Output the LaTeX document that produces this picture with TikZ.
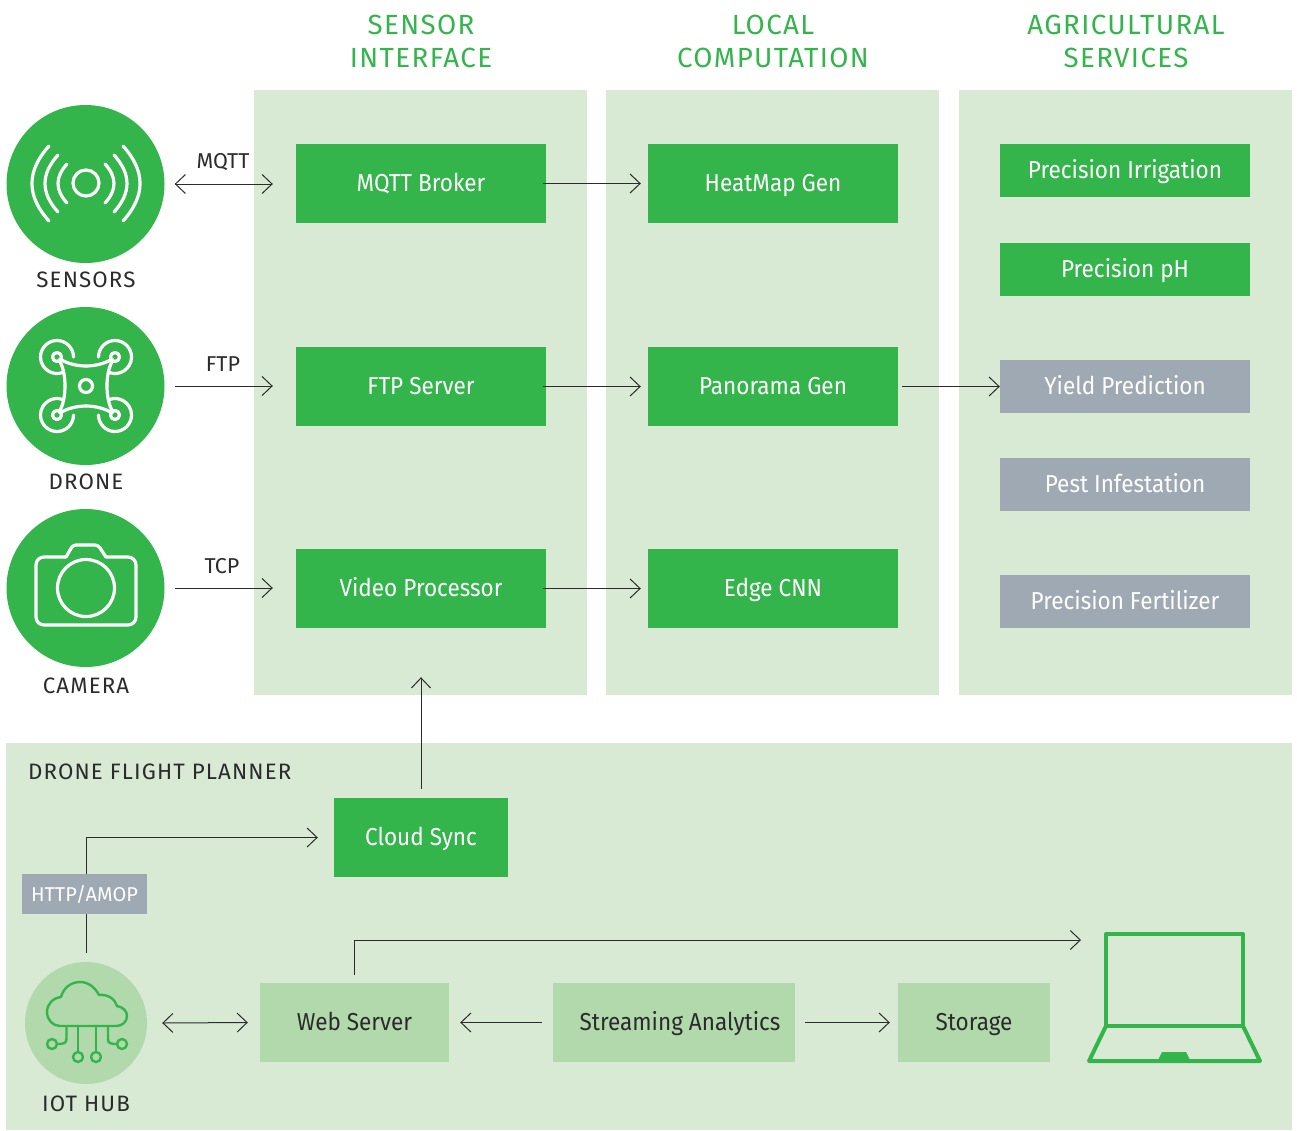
\documentclass[tikz,border=0pt]{standalone}
\usepackage{fontspec}
\setmainfont{Fira Sans}
\newfontfamily\boxfontfam{Fira Sans}[FakeStretch=0.92]
\newfontfamily\spacedfont{Fira Sans}[LetterSpace=5]
\usetikzlibrary{arrows.meta}
\definecolor{brand}{HTML}{33B54C}
\definecolor{panelbg}{HTML}{D8EAD4}
\definecolor{softgreen}{HTML}{B1D9AC}
\definecolor{slate}{HTML}{9FA9B4}
\definecolor{ink}{HTML}{2B2B2B}
\tikzset{
  panel/.style={fill=panelbg,draw=none,inner sep=0pt,minimum width=333pt,minimum height=605pt},
  boxfont/.style={font=\boxfontfam\fontsize{24.5}{28}\selectfont,text height=17pt,text depth=1.5pt},
  mainbox/.style={fill=brand,text=white,inner sep=0pt,minimum width=250pt,minimum height=79pt,boxfont},
  svcbox/.style={fill=brand,text=white,inner sep=0pt,minimum width=250pt,minimum height=53pt,boxfont},
  greybox/.style={svcbox,fill=slate},
  softbox/.style={fill=softgreen,text=ink,inner sep=0pt,minimum height=79pt,boxfont},
  header/.style={text=brand,align=center,font=\spacedfont\fontsize{27.7}{33}\selectfont},
  caption/.style={text=ink,inner sep=0pt,font=\spacedfont\fontsize{22.3}{24}\selectfont},
  proto/.style={text=ink,inner sep=0pt,font=\fontsize{21.5}{24}\selectfont},
  disc/.style={circle,fill=brand,inner sep=0pt,minimum size=158pt},
  link/.style={draw=ink,line width=1pt,>={Straight Barb[length=10pt,width=19pt,line width=1pt]}},
  iconw/.style={draw=white,line width=3.2pt,line cap=round,line join=round},
  icong/.style={draw=brand,line width=2.4pt,line cap=round,line join=round}
}
\begin{document}
\begin{tikzpicture}[x=1pt,y=-1pt]
\useasboundingbox (0,0) rectangle (1297,1130);
% panels
\node[panel] (pSensor) at (420.5,392.5) {};
\node[panel] (pLocal) at (772.5,392.5) {};
\node[panel] (pAgri) at (1125.5,392.5) {};
\node[panel,minimum width=1286pt,minimum height=387pt] (pPlan) at (649,936.5) {};
% headers
\node[header] (h1) at (421,41.5) {SENSOR\\INTERFACE};
\node[header] (h2) at (773,41.5) {LOCAL\\COMPUTATION};
\node[header] (h3) at (1126,41.5) {AGRICULTURAL\\SERVICES};
% discs
\node[disc] (sens) at (85.5,184) {};
\node[disc] (drone) at (85.5,386) {};
\node[disc] (cam) at (85.5,588) {};
\node[caption] (lSens) at (86,280) {SENSORS};
\node[caption] (lDrone) at (86,482) {DRONE};
\node[caption] (lCam) at (86,686) {CAMERA};
% main boxes
\node[mainbox] (mqtt) at (421,183.5) {MQTT Broker};
\node[mainbox] (ftp) at (421,386.5) {FTP Server};
\node[mainbox] (video) at (421,588.5) {Video Processor};
\node[mainbox] (heat) at (773,183.5) {HeatMap Gen};
\node[mainbox] (pano) at (773,386.5) {Panorama Gen};
\node[mainbox] (cnn) at (773,588.5) {Edge CNN};
\node[svcbox] (irr) at (1125,170.5) {Precision Irrigation};
\node[svcbox] (ph) at (1125,269.5) {Precision pH};
\node[greybox] (yield) at (1125,386.5) {Yield Prediction};
\node[greybox] (pest) at (1125,484.5) {Pest Infestation};
\node[greybox] (fert) at (1125,601.5) {Precision Fertilizer};
% protocol labels
\node[proto] (lMqtt) at (223,162) {MQTT};
\node[proto] (lFtp) at (223,364) {FTP};
\node[proto] (lTcp) at (222,566) {TCP};
% planner
\node[caption,anchor=west] (lPlan) at (28,772) {DRONE FLIGHT PLANNER};
\node[circle,fill=softgreen,inner sep=0pt,minimum size=122pt] (hub) at (86,1023) {};
\node[caption] (lHub) at (86,1104) {IOT HUB};
\node[mainbox,minimum width=174pt] (cloud) at (421,837.5) {Cloud Sync};
\node[softbox,minimum width=189pt] (web) at (354.5,1022.5) {Web Server};
\node[softbox,minimum width=242pt] (stream) at (674,1022.5) {\hspace*{12pt}Streaming Analytics};
\node[softbox,minimum width=152pt] (store) at (974,1022.5) {Storage};
\node[draw=brand,line width=4pt,line join=round,inner sep=0pt,outer sep=0pt,minimum width=137pt,minimum height=92pt] (laptop) at (1174.5,980) {};
% connectors
\draw[link,<->] ([xshift=10pt]sens.east) -- ([xshift=-23pt]mqtt.west|-sens.east);
\draw[link,->] ([xshift=10pt]drone.east) -- ([xshift=-23pt]ftp.west|-drone.east);
\draw[link,->] ([xshift=10pt]cam.east) -- ([xshift=-23pt]video.west|-cam.east);
\draw[link,->] ([xshift=-3pt]mqtt.east) -- ([xshift=-7pt]heat.west);
\draw[link,->] ([xshift=-3pt]ftp.east) -- ([xshift=-7pt]pano.west);
\draw[link,->] ([xshift=-3pt]video.east) -- ([xshift=-7pt]cnn.west);
\draw[link,->] ([xshift=4pt]pano.east) -- (yield.west);
\draw[link,->] ([yshift=9pt]cloud.north) -- ([yshift=18pt]pSensor.south-|cloud.north);
\coordinate (hubTop) at ([yshift=9pt]hub.north);
\draw[link,->] (hubTop) -- (hubTop|-cloud.west) -- ([xshift=-16pt]cloud.west);
\node[fill=slate,text=white,inner sep=0pt,minimum width=125pt,minimum height=40pt,font=\fontsize{20}{22}\selectfont] (http) at (84.5,894) {HTTP/AMOP};
\draw[link,<->] ([xshift=15pt]hub.east) -- ([xshift=-12pt]web.west);
\draw[link,->] ([xshift=-11pt]stream.west) -- ([xshift=11pt]web.east);
\draw[link,->] ([xshift=10pt]stream.east) -- ([xshift=-8pt]store.west);
\coordinate (lapIn) at ([xshift=-25pt,yshift=-6pt]laptop.north west);
\coordinate (webTop) at ([yshift=8pt]web.north);
\draw[link,->] (webTop) -- (webTop|-lapIn) -- (lapIn);
% sensors icon
\draw[iconw] (86,183) circle (13);
\foreach \s in {1,-1}{
\begin{scope}[shift={(86,183.5)},xscale=\s]
\draw[iconw] (-19,-19.5) .. controls (-31,-6.5) and (-31,6.5) .. (-19,19.5);
\draw[iconw] (-28,-28.5) .. controls (-45.3,-9.5) and (-45.3,9.5) .. (-28,28.5);
\draw[iconw] (-37,-37.5) .. controls (-59.7,-12.5) and (-59.7,12.5) .. (-37,37.5);
\end{scope}}
% drone icon
\draw[iconw] (86,386) circle (6.5);
\foreach \sx in {1,-1}{\foreach \sy in {1,-1}{
\begin{scope}[shift={(86,386)},xscale=\sx,yscale=\sy]
\draw[iconw] (-29,-29) circle (4.5);
\draw[iconw] (-12.5,-29) arc (0:-288:16.5);
\draw[iconw] (0,-20) .. controls (-10,-20) and (-20,-23) .. (-26,-27);
\draw[iconw] (-21,0) .. controls (-21,-10) and (-23,-20) .. (-27,-26);
\end{scope}}}
% camera icon
\draw[iconw,rounded corners=8pt] (66,557) -- (36,557) -- (36,625) -- (136,625) -- (136,557) -- (106,557);
\draw[iconw,rounded corners=3pt] (66,557) -- (73,545) -- (98,545) -- (106,557);
\draw[iconw] (86,588) circle (28.5);
% hub icon
\draw[icong] (60,1026) -- (116,1026) .. controls (122,1026) and (127,1022) .. (127,1016) .. controls (127,1011) and (123,1007) .. (117,1006) .. controls (115,999) and (108,994) .. (99,995) .. controls (95,987) and (88,982) .. (80,982) .. controls (70,982) and (63,989) .. (61,997) .. controls (53,998) and (47,1004) .. (47,1012) .. controls (47,1020) and (53,1026) .. (60,1026);
\draw[icong] (66.5,1026) -- (66.5,1039) .. controls (66.5,1043) and (64,1044) .. (57,1044);
\draw[icong] (52,1044) circle (5);
\draw[icong] (78,1026) -- (78,1052);
\draw[icong] (78,1057) circle (5);
\draw[icong] (96,1026) -- (96,1052);
\draw[icong] (96,1057) circle (5);
\draw[icong] (108,1026) -- (108,1039) .. controls (108,1043) and (110,1044) .. (117,1044);
\draw[icong] (122,1044) circle (5);
% laptop base
\draw[draw=brand,line width=4pt,line join=round,line cap=round] (laptop.south west) -- (1089,1061) -- (1260,1061) -- (laptop.south east);
\fill[brand] (1157,1062) -- (1162,1052) -- (1186,1052) -- (1191,1062) -- cycle;
\end{tikzpicture}
\end{document}
